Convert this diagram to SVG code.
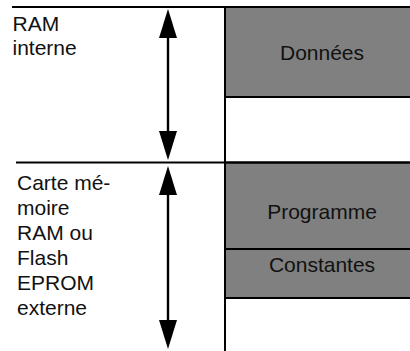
<svg xmlns="http://www.w3.org/2000/svg" width="410" height="351" viewBox="0 0 410 351">
  <style>
    .label { font-family: "Liberation Sans", Arial, Helvetica, sans-serif; font-size: 21px; fill: #111; }
    .mid { text-anchor: middle; }
    .rule { stroke: #000; stroke-width: 2; fill: none; }
    .block { fill: #808080; stroke: #000; stroke-width: 2; }
    .span { stroke: #000; stroke-width: 2.4; fill: none; marker-start: url(#head); marker-end: url(#head); }
  </style>
  <defs>
    <marker id="head" markerUnits="userSpaceOnUse" markerWidth="29" markerHeight="18" viewBox="0 -9 29 18" refX="1" refY="0" orient="auto-start-reverse">
      <path d="M0,-9 L29,0 L0,9 z" fill="#000"/>
    </marker>
  </defs>

  <rect width="410" height="351" fill="#fff"/>

  <!-- memory map blocks -->
  <g id="donnees">
    <rect class="block" x="225" y="7" width="187" height="90"/>
    <text class="label mid" x="322" y="60">Données</text>
  </g>
  <g id="programme">
    <rect class="block" x="225" y="162.5" width="187" height="86.5"/>
    <text class="label mid" x="322" y="219">Programme</text>
  </g>
  <g id="constantes">
    <rect class="block" x="225" y="249" width="187" height="49"/>
    <text class="label mid" x="322" y="272">Constantes</text>
  </g>

  <!-- region boundaries -->
  <g id="boundaries">
    <line class="rule" x1="12" y1="7" x2="410" y2="7"/>
    <line class="rule" x1="16" y1="162.5" x2="410" y2="162.5"/>
    <line class="rule" x1="225" y1="7" x2="225" y2="351"/>
  </g>

  <!-- region names -->
  <g id="ram-interne">
    <text class="label" x="12.5" y="30.5">RAM</text>
    <text class="label" x="12.5" y="55">interne</text>
  </g>
  <g id="carte-memoire">
    <text class="label" x="17" y="189.5">Carte mé-</text>
    <text class="label" x="17" y="214.5">moire</text>
    <text class="label" x="17" y="239.5">RAM ou</text>
    <text class="label" x="17" y="264.5">Flash</text>
    <text class="label" x="17" y="289.5">EPROM</text>
    <text class="label" x="17" y="314.5">externe</text>
  </g>

  <!-- extent arrows -->
  <g id="connectors">
    <line class="span" x1="168" y1="37" x2="168" y2="132"/>
    <line class="span" x1="168" y1="194" x2="168" y2="321"/>
  </g>
</svg>
